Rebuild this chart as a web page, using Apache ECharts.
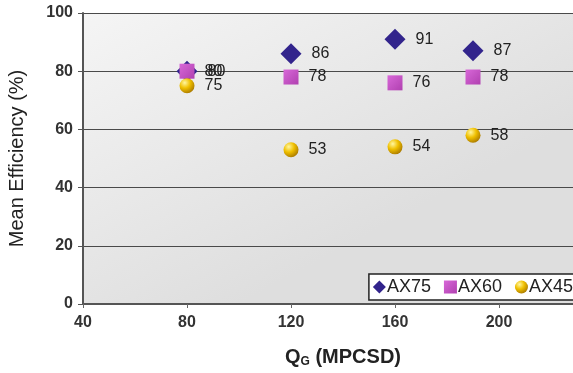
<!DOCTYPE html>
<html><head><meta charset="utf-8">
<script src="https://cdn.jsdelivr.net/npm/echarts@6/dist/echarts.min.js"></script>
<style>html,body{margin:0;padding:0;background:#fff}#c{width:573px;height:373px}</style>
</head><body><div id="c"></div>
<script>
const xAX75 = [80, 120, 160, 190];
const yAX75 = [80, 86, 91, 87];
const xAX60 = [80, 120, 160, 190];
const yAX60 = [80, 78, 76, 78];
const xAX45 = [80, 120, 160, 190];
const yAX45 = [75, 53, 54, 58];
const seriesNames = ['AX75', 'AX60', 'AX45'];

const chart = echarts.init(document.getElementById('c'));
const pairs = (xs, ys) => xs.map((x, i) => [x, ys[i]]);
const F = 'Liberation Sans';
const lbl = {show: true, position: 'right', distance: 10, color: '#222', fontSize: 16, fontFamily: F, formatter: p => p.value[1]};
const goldGrad = new echarts.graphic.RadialGradient(0.35, 0.3, 0.8, [{offset: 0, color: '#fff6a0'}, {offset: 0.45, color: '#f0c000'}, {offset: 1, color: '#a07000'}]);
const pinkGrad = new echarts.graphic.LinearGradient(0, 0, 1, 1, [{offset: 0, color: '#d868d8'}, {offset: 1, color: '#b040b0'}]);
chart.setOption({
  backgroundColor: '#fff',
  animation: false,
  grid: {left: 83, right: -30, top: 13, bottom: 69, show: true, borderWidth: 0, outerBoundsMode: 'none', containLabel: false,
    backgroundColor: new echarts.graphic.LinearGradient(0, 0, 0.3, 1, [{offset: 0, color: '#f5f5f5'}, {offset: 1, color: '#dedede'}])},
  xAxis: {type: 'value', min: 40, max: 240, interval: 40,
    axisLine: {show: true, onZero: false, lineStyle: {color: '#555', width: 2}},
    axisTick: {show: true, length: 4, lineStyle: {color: '#666'}},
    splitLine: {show: false},
    axisLabel: {color: '#333', fontSize: 16, fontWeight: 'bold', fontFamily: F, margin: 11},
    name: '{b|Q}{s|G}{b| (MPCSD)}', nameLocation: 'middle', nameGap: 42,
    nameTextStyle: {rich: {b: {fontSize: 20, fontWeight: 'bold', color: '#222', fontFamily: F}, s: {fontSize: 12, fontWeight: 'bold', color: '#222', fontFamily: F, verticalAlign: 'bottom', padding: [10, 0, 0, 0]}}}
  },
  yAxis: {type: 'value', min: 0, max: 100, interval: 20,
    axisLine: {show: true, lineStyle: {color: '#555', width: 2}},
    axisTick: {show: true, length: 5, lineStyle: {color: '#555'}},
    splitLine: {show: true, lineStyle: {color: '#4a4a4a', width: 1}},
    axisLabel: {color: '#333', fontSize: 16, fontWeight: 'bold', fontFamily: F, margin: 10},
    name: 'Mean Efficiency (%)', nameLocation: 'middle', nameGap: 56,
    nameTextStyle: {fontSize: 20, color: '#222', fontFamily: F}
  },
  legend: {right: -4, bottom: 73, orient: 'horizontal', itemWidth: 13, itemHeight: 13, itemGap: 13,
    padding: [4, 4, 4, 4], borderColor: '#222', borderWidth: 1.5, backgroundColor: '#fff',
    textStyle: {fontSize: 18, color: '#222', fontFamily: F, padding: [0, 0, 0, -4]},
    data: seriesNames},
  series: [
    {name: 'AX75', type: 'scatter', symbol: 'diamond', symbolSize: 21, itemStyle: {color: '#32248c', opacity: 1}, label: lbl, data: pairs(xAX75, yAX75), z: 3},
    {name: 'AX60', type: 'scatter', symbol: 'rect', symbolSize: 15, itemStyle: {color: pinkGrad, opacity: 1}, label: lbl, data: pairs(xAX60, yAX60), z: 4},
    {name: 'AX45', type: 'scatter', symbol: 'circle', symbolSize: 15, itemStyle: {color: goldGrad, opacity: 1}, label: lbl, data: pairs(xAX45, yAX45), z: 5}
  ]
});
</script></body></html>
